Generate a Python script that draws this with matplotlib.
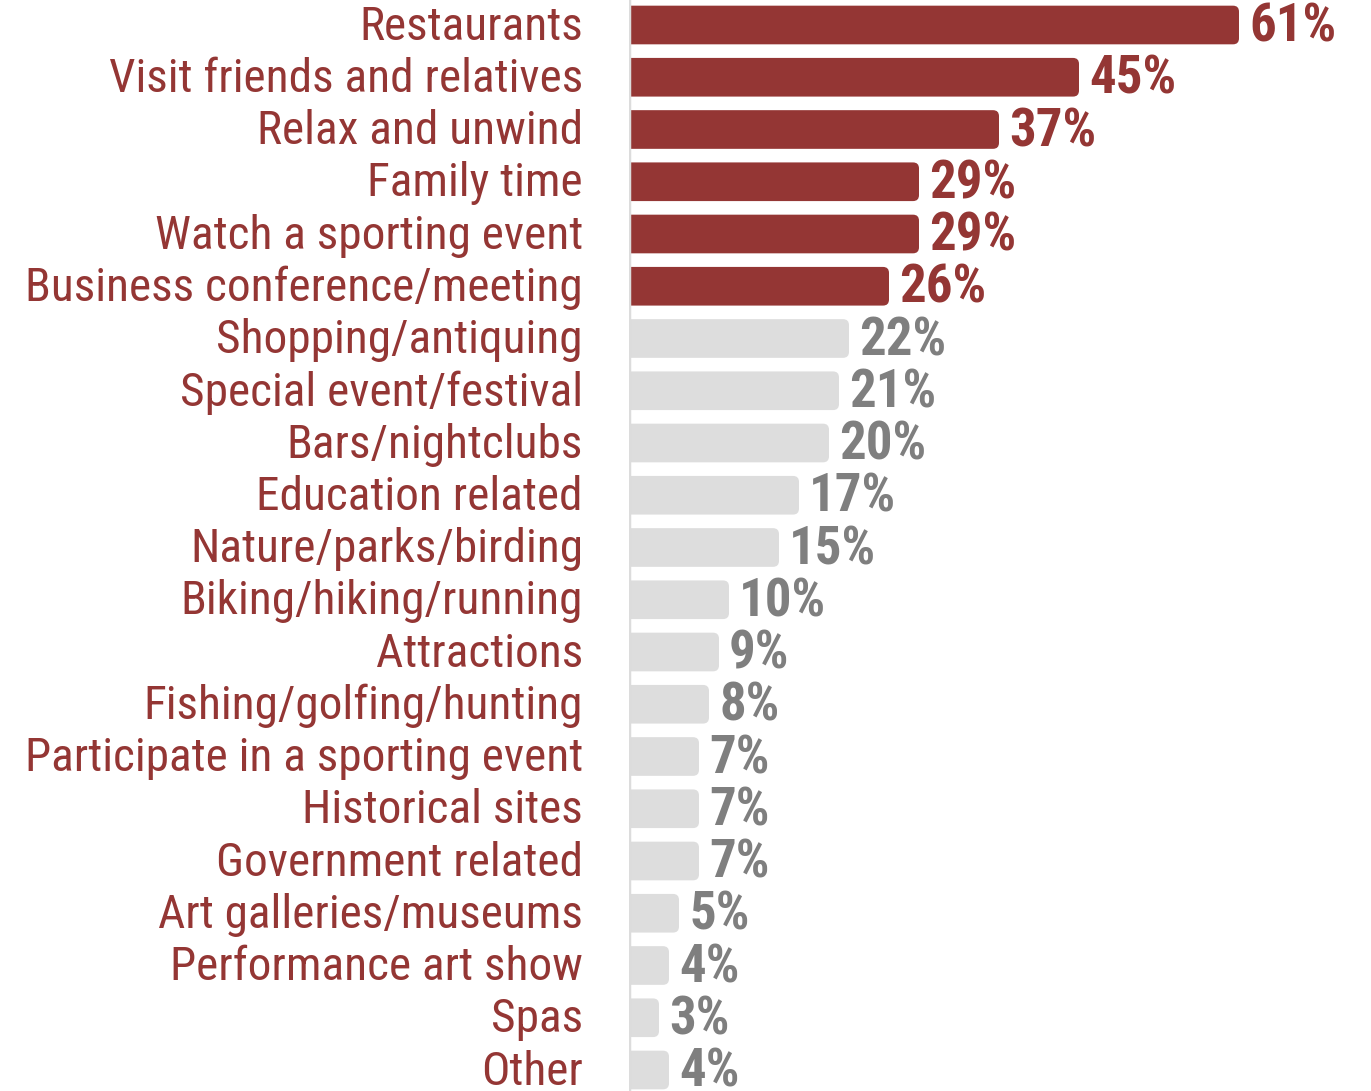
import matplotlib
matplotlib.use("Agg")
import matplotlib.pyplot as plt
from matplotlib.patches import FancyBboxPatch

# Share of respondents by activity
activities = [
    "Restaurants", "Visit friends and relatives", "Relax and unwind",
    "Family time", "Watch a sporting event", "Business conference/meeting",
    "Shopping/antiquing", "Special event/festival", "Bars/nightclubs",
    "Education related", "Nature/parks/birding", "Biking/hiking/running",
    "Attractions", "Fishing/golfing/hunting", "Participate in a sporting event",
    "Historical sites", "Government related", "Art galleries/museums",
    "Performance art show", "Spas", "Other",
]
shares = [61, 45, 37, 29, 29, 26, 22, 21, 20, 17, 15, 10, 9, 8, 7, 7, 7, 5, 4, 3, 4]
n_highlight = 6

RED = "#943634"
GREY_BAR = "#DDDDDD"
GREY_TXT = "#7F7F7F"

plt.rcParams["font.family"] = ["Liberation Sans Narrow", "Arial Narrow",
                               "Roboto Condensed", "PT Sans Narrow",
                               "Archivo Narrow", "DejaVu Sans"]

W, H = 1371, 1091
fig = plt.figure(figsize=(W / 100, H / 100), dpi=100)
x0 = 629
ax = fig.add_axes([x0 / W, 0, 1 - x0 / W, 1])

px_per_unit = 10.0
row_px = 52.25
top_center = 25
ax.set_xlim(0, (W - x0) / px_per_unit)
ax.set_ylim(-top_center / row_px + H / row_px, -top_center / row_px)

ypos = list(range(len(activities)))
colors = [RED if i < n_highlight else GREY_BAR for i in ypos]
bars = ax.barh(ypos, shares, height=0.74, color=colors)

# swap plain rectangles for bars with rounded right ends
aspect = px_per_unit / row_px
for rect, c in zip(bars.patches, colors):
    x, y = rect.get_x(), rect.get_y()
    w, h = rect.get_width(), rect.get_height()
    rect.set_visible(False)
    ax.add_patch(FancyBboxPatch((x - 1.5, y), w + 1.5, h,
                                boxstyle="round,pad=0,rounding_size=0.6",
                                mutation_aspect=aspect, fc=c, ec="none"))

for i, v in enumerate(shares):
    tc = RED if i < n_highlight else GREY_TXT
    ax.text(v + 1.0, i + 0.04, f"{v}%", va="center", ha="left", fontsize=38,
            fontweight="bold", color=tc, clip_on=False)
    ax.text(-4.6, i + 0.03, activities[i], va="center", ha="right", fontsize=34,
            color=RED, clip_on=False)

ax.axvline(0, color="#DCDCDC", lw=2.5, zorder=5)
for s in ax.spines.values():
    s.set_visible(False)
ax.set_xticks([])
ax.set_yticks([])

fig.savefig("out.png", dpi=100, facecolor="white")
